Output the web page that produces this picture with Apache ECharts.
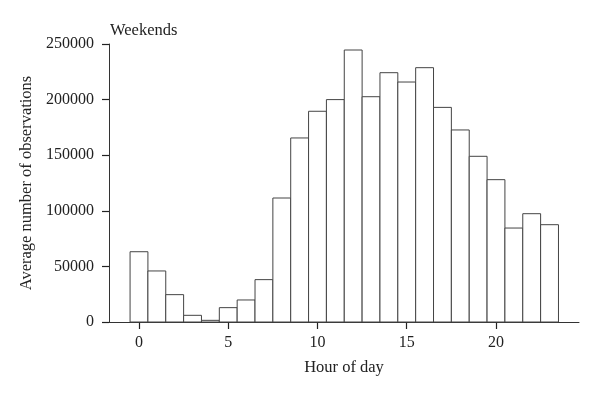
<!DOCTYPE html>
<html>
<head>
<meta charset="utf-8">
<script src="https://cdn.jsdelivr.net/npm/echarts@6/dist/echarts.min.js"></script>
<style>
  html, body { margin: 0; padding: 0; background: #fff; }
  #chart { width: 600px; height: 397px; }
</style>
</head>
<body>
<div id="chart"></div>
<script>
// hour of day 0..23
var hours = [0, 1, 2, 3, 4, 5, 6, 7, 8, 9, 10, 11, 12, 13, 14, 15, 16, 17, 18, 19, 20, 21, 22, 23]
// average number of observations per hour (weekends)
var counts = [63200, 45900, 24600, 6000, 1500, 12900, 19800, 38100, 111500, 165500, 189500, 200000,
  244600, 202600, 224200, 215800, 228700, 193000, 172700, 149000, 128000, 84500, 97400, 87500]
var xTicks = [0, 5, 10, 15, 20]

var font = 'Liberation Serif'
var ink = '#333'

var chart = echarts.init(document.getElementById('chart'))

var data = hours.map(function (h, i) { return [h, counts[i]] })

chart.setOption({
  animation: false,
  title: {
    text: 'Weekends',
    left: 105,
    top: 17,
    textStyle: { fontFamily: font, fontSize: 16.5, fontWeight: 'normal', color: '#222' }
  },
  grid: { left: 109, right: 21, top: 44, bottom: 75 },
  xAxis: {
    type: 'value',
    min: -1.68,
    max: 24.65,
    name: 'Hour of day',
    nameLocation: 'middle',
    nameGap: 37,
    nameTextStyle: { fontFamily: font, fontSize: 16.5, color: '#222' },
    axisLine: { show: true, onZero: false, lineStyle: { color: ink, width: 1 } },
    axisTick: { show: true, length: 7, customValues: xTicks, lineStyle: { color: '#222', width: 1.2 } },
    axisLabel: { customValues: xTicks, fontFamily: font, fontSize: 16, color: '#222', margin: 13 },
    splitLine: { show: false }
  },
  yAxis: {
    type: 'value',
    min: 0,
    max: 250000,
    interval: 50000,
    name: 'Average number of observations',
    nameLocation: 'middle',
    nameGap: 72,
    nameTextStyle: { fontFamily: font, fontSize: 16.5, color: '#222' },
    axisLine: { show: true, onZero: false, lineStyle: { color: ink, width: 1 } },
    axisTick: { show: true, length: 7, lineStyle: { color: '#222', width: 1.2 } },
    axisLabel: {
      fontFamily: font, fontSize: 16, color: '#222', margin: 15,
      formatter: function (v) { return String(v) }
    },
    splitLine: { show: false }
  },
  series: [{
    type: 'custom',
    data: data,
    renderItem: function (params, api) {
      var left = api.coord([api.value(0) - 0.5, api.value(1)])
      var right = api.coord([api.value(0) + 0.5, 0])
      return {
        type: 'rect',
        shape: {
          x: left[0],
          y: left[1],
          width: right[0] - left[0],
          height: right[1] - left[1]
        },
        style: { fill: '#fff', stroke: '#444', lineWidth: 1 }
      }
    }
  }]
})
</script>
</body>
</html>
